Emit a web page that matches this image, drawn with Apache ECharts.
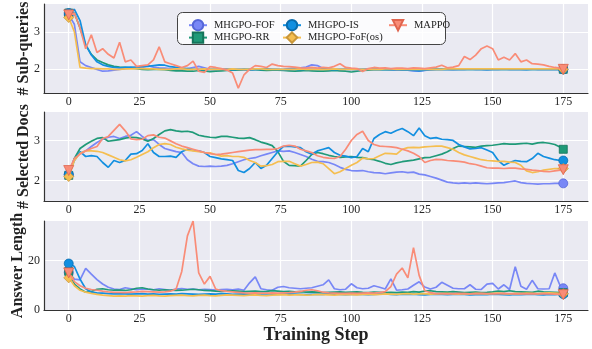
<!DOCTYPE html>
<html>
<head>
<meta charset="utf-8">
<script src="https://cdn.jsdelivr.net/npm/echarts@6/dist/echarts.min.js"></script>
<style>
  html, body { margin: 0; padding: 0; background: #fff; }
  #container { width: 592px; height: 349px; }
</style>
</head>
<body>
<div id="container"></div>
<script>
// training steps: every 2nd step plus the last one
var steps = [];
for (var s = 0; s < 175; s += 2) steps.push(s);
steps.push(175);

var xTicks = [0, 25, 50, 75, 100, 125, 150, 175];

// # Sub-queries
var subFof = [3.45,3.2,2.2,2.1,2.05,2.0,1.95,1.96,1.98,2.0,
  2.02,2.03,2.05,2.05,2.1,2.06,2.04,2.03,2.02,2.0,
  2.0,2.02,2.05,2.08,2.04,2.0,1.99,2.0,2.01,2.0,
  1.99,2.0,1.98,2.0,2.01,2.0,2.0,1.99,2.0,2.02,
  2.03,2.04,2.06,2.12,2.1,2.02,2.0,2.0,1.99,2.0,
  2.0,2.0,2.0,2.01,2.0,2.0,2.0,1.99,1.98,1.99,
  1.98,1.96,1.95,1.97,1.99,2.0,2.0,2.0,1.99,2.0,
  2.0,2.01,2.0,2.0,1.99,2.0,2.0,2.01,2.0,2.0,
  2.0,2.0,2.01,2.0,2.0,2.0,2.0,2.0,2.0];
var subRr = [3.5,3.5,3.1,2.65,2.4,2.25,2.18,2.12,2.08,2.06,
  2.05,2.03,2.02,2.0,1.99,2.0,2.0,1.99,1.97,1.96,
  1.96,1.95,1.95,1.97,1.96,1.94,1.95,1.96,1.97,1.98,
  1.98,1.99,2.0,1.99,1.98,1.97,1.98,1.98,1.97,1.96,
  1.95,1.96,1.97,1.96,1.95,1.95,1.96,1.97,1.96,1.95,
  1.93,1.95,1.97,1.98,1.99,2.0,1.99,1.99,2.0,2.0,
  2.0,1.99,2.0,2.0,2.0,2.0,2.0,2.0,2.0,2.0,
  2.0,2.0,2.0,2.0,2.0,2.0,2.0,2.0,2.0,2.0,
  2.0,2.0,2.0,2.0,2.0,2.0,2.0,2.0,2.0];
var subIs = [3.5,3.6,3.3,2.65,2.38,2.2,2.12,2.08,2.05,2.04,
  2.05,2.06,2.05,2.07,2.08,2.1,2.12,2.11,2.07,2.05,
  2.03,2.02,2.0,2.0,2.0,2.0,2.0,2.0,2.0,1.99,
  2.0,2.0,1.99,2.0,2.0,2.01,2.0,2.0,1.99,2.0,
  2.0,2.0,2.0,2.0,2.0,2.01,2.0,1.99,2.0,2.0,
  2.0,1.99,2.0,2.0,2.0,2.0,2.0,2.0,1.99,1.98,
  1.98,1.97,1.96,1.98,1.99,2.0,2.0,2.0,2.0,2.0,
  2.0,2.0,2.0,2.0,1.99,2.0,2.0,2.0,2.0,2.0,
  2.0,1.99,2.0,2.0,2.0,2.0,2.0,2.0,2.0];
var subFofOs = [3.38,3.0,2.05,2.03,2.02,2.02,2.01,2.01,2.0,2.0,
  2.01,2.01,2.02,2.02,2.01,2.01,2.0,2.0,2.0,2.01,
  2.01,2.0,2.0,2.0,2.01,2.0,2.0,2.0,2.0,2.01,
  2.0,2.0,2.0,2.01,2.01,2.0,2.0,2.0,2.0,2.0,
  2.0,2.01,2.0,2.0,2.0,2.0,2.0,2.01,2.0,2.0,
  2.0,2.0,2.0,2.0,2.0,2.0,2.01,2.01,2.0,2.0,
  2.0,2.0,2.0,2.0,2.0,2.0,2.0,2.01,2.01,2.01,
  2.01,2.01,2.01,2.01,2.01,2.01,2.01,2.01,2.01,2.01,
  2.01,2.01,2.01,2.01,2.01,2.01,2.01,2.01,2.0];
var subMappo = [3.45,3.5,3.1,2.55,2.92,2.45,2.55,2.4,2.3,2.72,
  2.2,2.25,2.08,2.1,2.12,2.25,2.6,2.2,2.15,2.1,
  2.05,2.1,2.22,1.95,1.92,2.07,2.05,2.02,1.98,1.9,
  1.5,1.85,2.0,2.1,2.08,2.05,2.14,2.1,2.08,2.07,
  2.06,2.04,2.03,2.05,2.03,2.05,2.04,2.08,2.15,2.05,
  2.03,2.02,1.94,2.02,2.05,2.03,2.04,2.02,2.03,2.03,
  2.02,2.04,2.03,2.02,2.04,2.06,2.11,2.04,2.06,2.1,
  2.34,2.26,2.38,2.55,2.62,2.55,2.25,2.32,2.25,2.42,
  2.2,2.25,2.15,2.14,2.12,2.08,2.05,2.03,2.0];

// # Selected Docs
var docFof = [2.15,2.55,2.68,2.74,2.85,2.95,3.03,3.08,3.1,3.05,
  3.1,3.13,3.22,3.1,3.0,3.02,2.9,2.8,2.76,2.72,
  2.7,2.52,2.42,2.36,2.35,2.36,2.35,2.36,2.38,2.42,
  2.47,2.52,2.55,2.57,2.62,2.66,2.7,2.74,2.73,2.74,
  2.7,2.65,2.6,2.53,2.48,2.47,2.45,2.4,2.33,2.28,
  2.25,2.24,2.25,2.22,2.2,2.19,2.17,2.19,2.21,2.22,
  2.2,2.21,2.16,2.14,2.1,2.06,2.01,1.96,1.94,1.93,
  1.94,1.93,1.94,1.93,1.92,1.93,1.94,1.95,1.97,1.99,
  1.95,1.93,1.92,1.91,1.92,1.92,1.93,1.93,1.93];
var docRr = [2.13,2.55,2.8,2.9,2.98,3.05,3.07,2.98,3.0,3.02,
  3.06,3.08,3.07,3.04,2.98,3.05,3.15,3.24,3.27,3.24,
  3.22,3.23,3.2,3.13,3.1,3.08,3.07,3.1,3.1,3.08,
  3.06,3.05,3.07,3.02,2.96,2.92,2.87,2.72,2.48,2.38,
  2.37,2.36,2.5,2.65,2.7,2.67,2.63,2.6,2.58,2.59,
  2.6,2.58,2.57,2.54,2.52,2.48,2.43,2.4,2.44,2.47,
  2.49,2.51,2.54,2.57,2.58,2.62,2.66,2.72,2.8,2.86,
  2.85,2.84,2.83,2.86,2.87,2.88,2.9,2.92,2.91,2.91,
  2.92,2.93,2.91,2.94,2.95,2.93,2.9,2.83,2.78];
var docIs = [2.15,2.5,2.72,2.6,2.62,2.6,2.45,2.33,2.5,2.45,
  2.5,2.66,2.67,2.75,2.92,2.7,2.6,2.6,2.61,2.58,
  2.72,2.78,2.75,2.74,2.7,2.6,2.57,2.54,2.52,2.5,
  2.25,2.2,2.3,2.45,2.3,2.38,2.55,2.72,2.85,2.86,
  2.84,2.82,2.72,2.66,2.74,2.78,2.82,2.7,2.63,2.61,
  2.57,2.6,2.8,2.72,3.05,3.15,3.22,3.18,3.25,3.3,
  3.22,3.12,3.31,3.12,3.05,3.07,3.03,3.02,3.0,2.9,
  2.84,2.79,2.8,2.82,2.76,2.7,2.5,2.38,2.45,2.5,
  2.48,2.47,2.55,2.68,2.6,2.56,2.52,2.5,2.5];
var docFofOs = [2.1,2.5,2.68,2.74,2.74,2.73,2.7,2.64,2.58,2.52,
  2.49,2.52,2.58,2.65,2.72,2.82,2.9,2.92,2.9,2.83,
  2.79,2.76,2.74,2.72,2.7,2.69,2.65,2.61,2.62,2.6,
  2.6,2.58,2.5,2.45,2.36,2.37,2.4,2.47,2.48,2.48,
  2.42,2.36,2.4,2.45,2.46,2.42,2.3,2.17,2.22,2.3,
  2.38,2.45,2.56,2.54,2.55,2.62,2.68,2.67,2.66,2.78,
  2.82,2.83,2.82,2.84,2.85,2.86,2.86,2.82,2.78,2.7,
  2.64,2.6,2.56,2.52,2.5,2.49,2.48,2.48,2.46,2.45,
  2.38,2.24,2.2,2.22,2.26,2.28,2.3,2.3,2.3];
var docMappo = [2.25,2.55,2.66,2.74,2.8,2.85,3.05,3.1,3.25,3.4,
  3.24,3.04,3.02,3.03,3.12,3.14,3.08,3.06,2.99,2.92,
  2.86,2.82,2.78,2.74,2.7,2.67,2.65,2.66,2.68,2.7,
  2.72,2.74,2.76,2.77,2.77,2.78,2.78,2.8,2.86,2.88,
  2.86,2.78,2.74,2.7,2.62,2.58,2.56,2.55,2.6,2.78,
  3.0,3.15,3.23,3.0,2.9,2.86,2.85,2.84,2.82,2.78,
  2.74,2.68,2.6,2.45,2.5,2.53,2.52,2.5,2.49,2.48,
  2.46,2.42,2.4,2.36,2.32,2.31,2.31,2.3,2.31,2.31,
  2.29,2.28,2.26,2.25,2.23,2.22,2.24,2.26,2.27];

// Answer Length
var lenFof = [15.2,12.5,12.2,16.8,14.5,12.3,10.5,9.2,8.5,8.3,
  9.0,8.6,8.2,8.5,8.4,8.2,8.6,8.3,8.0,8.5,
  8.7,8.4,8.5,8.2,8.4,8.3,8.1,8.3,8.4,8.2,
  8.5,8.0,11.0,13.4,8.6,8.2,8.0,9.2,9.5,9.0,
  8.8,8.6,8.8,9.0,9.6,10.2,12.2,8.6,8.2,8.4,
  10.6,9.0,8.6,8.8,9.8,9.2,8.5,12.6,8.0,8.2,
  8.5,10.0,11.4,9.3,8.5,9.2,11.2,10.0,8.8,8.6,
  8.6,10.2,8.4,8.3,10.5,10.8,8.5,10.2,8.3,17.5,
  9.6,8.4,12.0,8.6,8.5,8.6,15.0,9.5,8.8];
var lenRr = [15.6,10.5,8.5,7.2,7.5,8.4,8.6,8.2,8.0,8.0,
  7.9,8.2,8.8,9.0,8.5,8.2,8.0,8.2,8.0,7.9,
  8.0,8.2,8.4,8.2,7.9,7.8,7.6,7.5,7.6,7.7,
  7.6,7.4,7.5,7.6,7.4,7.5,7.8,7.6,7.4,7.5,
  7.3,7.4,7.2,7.3,7.2,7.0,7.1,7.2,7.3,7.1,
  7.2,7.3,7.1,7.0,7.2,7.1,7.0,7.1,7.0,7.2,
  7.1,7.4,7.2,7.6,7.8,7.4,7.3,7.2,7.4,7.2,
  7.0,7.1,7.2,7.0,7.1,7.3,7.6,7.4,7.8,7.4,
  7.3,7.2,7.1,7.6,7.3,7.2,7.1,7.0,7.0];
var lenIs = [18.8,17.6,12.5,8.6,7.2,6.9,6.8,6.6,6.5,6.6,
  6.5,6.4,6.5,6.6,6.4,6.5,6.3,6.4,6.5,6.4,
  6.6,6.5,6.4,6.3,6.4,6.5,6.4,6.6,6.5,6.3,
  6.4,6.5,6.3,6.4,6.5,6.6,6.4,6.3,6.4,6.5,
  6.4,6.3,6.2,6.3,6.4,6.3,6.5,6.4,6.3,6.2,
  6.3,6.4,6.3,6.2,6.3,6.4,6.5,6.3,6.2,6.4,
  6.3,6.4,6.2,6.1,6.3,6.4,6.3,6.2,6.3,6.4,
  6.3,6.1,6.2,6.3,6.2,6.4,6.3,6.2,6.1,6.3,
  6.2,6.3,6.4,6.2,6.1,6.3,6.2,6.4,6.4];
var lenFofOs = [13.0,9.8,8.0,7.2,6.7,6.3,6.0,5.8,5.6,5.7,
  5.6,5.8,5.7,5.6,5.8,5.9,5.7,5.6,5.8,5.9,
  6.0,5.8,5.7,5.9,6.0,5.8,5.7,5.9,6.1,6.0,
  5.9,5.8,6.0,6.1,5.9,5.8,6.0,6.1,6.2,6.0,
  6.1,6.2,6.0,6.1,6.3,6.2,6.1,6.0,6.2,6.3,
  6.2,6.1,6.3,6.4,6.2,6.3,6.5,6.4,6.3,6.5,
  6.6,6.4,6.5,6.6,6.4,6.5,6.6,6.7,6.5,6.4,
  6.6,6.5,6.7,6.6,6.5,6.7,6.8,6.6,6.5,6.7,
  6.6,6.8,6.7,6.6,6.8,6.9,6.8,6.7,6.6];
var lenMappo = [15.0,11.5,9.8,8.8,8.3,8.0,7.6,7.3,7.1,7.1,
  7.0,7.2,7.3,7.5,7.4,7.3,7.2,7.3,7.6,8.5,
  15.6,30.0,36.0,15.0,10.5,13.6,8.5,7.8,7.5,7.3,
  7.1,6.9,6.8,6.9,6.8,6.8,6.9,6.8,6.9,7.0,
  7.2,7.5,8.0,8.2,7.8,7.2,6.9,6.8,6.7,6.7,
  6.8,6.7,6.8,6.9,6.8,7.0,7.4,9.5,14.5,17.0,
  13.0,25.2,14.0,7.8,7.0,6.6,6.6,6.5,6.6,6.7,
  6.6,6.5,6.6,6.7,6.6,6.5,6.6,6.7,6.6,6.5,
  6.6,6.5,6.6,6.5,6.6,6.5,6.4,6.3,6.2];

var names = ['MHGPO-FOF', 'MHGPO-RR', 'MHGPO-IS', 'MHGPO-FoF(os)', 'MAPPO'];
var colors = ['#7887f6', '#1f9a78', '#128fe0', '#f5be50', '#f98c77'];
var edges = ['#5566d8', '#14745a', '#0a6cad', '#c8963a', '#e0644e'];
var shapes = ['circle', 'rect', 'circle', 'diamond', 'triangle'];
var sizes = [9, 8, 9, 10, 10];
var rotates = [0, 0, 0, 0, 180];

var panels = [
  [subFof, subRr, subIs, subFofOs, subMappo],
  [docFof, docRr, docIs, docFofOs, docMappo],
  [lenFof, lenRr, lenIs, lenFofOs, lenMappo]
];

var FONT = 'Liberation Serif';

// markers only on the first and last point
function points(vals) {
  return vals.map(function (v, i) {
    var item = { value: [steps[i], v] };
    if (i > 0 && i < vals.length - 1) item.symbol = 'none';
    return item;
  });
}

var tops = [4, 112, 221];
var yRanges = [[1.37, 3.74], [1.49, 3.71], [0, 36]];
var yTicks = [[2, 3], [2, 3], [0, 20]];
var yNames = ['# Sub-queries', '# Selected Docs', 'Answer Length'];
var yNameGaps = [12, 12, 18];

var grids = [], xAxes = [], yAxes = [], series = [];
for (var p = 0; p < 3; p++) {
  grids.push({
    left: 44, right: 4, top: tops[p], height: 89,
    outerBoundsMode: 'none', containLabel: false,
    show: true, backgroundColor: '#eaeaf2', borderWidth: 0
  });
  xAxes.push({
    type: 'value', gridIndex: p, min: -8.75, max: 183.75,
    name: p == 2 ? 'Training Step' : '',
    nameLocation: 'middle', nameGap: 16, nameMoveOverlap: false,
    nameTextStyle: { fontFamily: FONT, fontWeight: 'bold', fontSize: 18, color: '#222', verticalAlign: 'top' },
    axisLine: { show: true, onZero: false, lineStyle: { color: '#333', width: 1.2 } },
    axisTick: { show: false, customValues: xTicks },
    axisLabel: { customValues: xTicks, margin: 3, fontFamily: FONT, fontSize: 12, color: '#262626' },
    splitLine: { show: true, lineStyle: { color: '#fff', width: 1.2 } }
  });
  yAxes.push({
    type: 'value', gridIndex: p, min: yRanges[p][0], max: yRanges[p][1],
    name: yNames[p], nameLocation: 'middle', nameGap: yNameGaps[p], nameRotate: 90,
    nameMoveOverlap: false,
    nameTextStyle: { fontFamily: FONT, fontWeight: 'bold', fontSize: 16, color: '#222' },
    axisLine: { show: true, onZero: false, lineStyle: { color: '#333', width: 1.2 } },
    axisTick: { show: false, customValues: yTicks[p] },
    axisLabel: { customValues: yTicks[p], margin: 4, fontFamily: FONT, fontSize: 12, color: '#262626' },
    splitLine: { show: true, lineStyle: { color: '#fff', width: 1.2 } }
  });
  for (var k = 0; k < 5; k++) {
    series.push({
      name: names[k], type: 'line',
      xAxisIndex: p, yAxisIndex: p,
      data: points(panels[p][k]),
      symbol: shapes[k], symbolSize: sizes[k], symbolRotate: rotates[k],
      showSymbol: true,
      lineStyle: { color: colors[k], width: 1.7 },
      itemStyle: { color: colors[k], borderColor: edges[k], borderWidth: 0.8 },
      z: 2 + k,
      emphasis: { disabled: true }
    });
  }
}

function legendCol(left, items) {
  return {
    orient: 'vertical', left: left, top: 14, itemGap: 0,
    itemWidth: 18, itemHeight: 13,
    data: items,
    textStyle: { fontFamily: FONT, fontSize: 10.5, color: '#222', padding: [0, 0, 0, 2] },
    selectedMode: false, z: 5
  };
}

var myChart = echarts.init(document.getElementById('container'), null, { renderer: 'canvas' });
var option = {
  animation: false,
  backgroundColor: '#fff',
  grid: grids,
  xAxis: xAxes,
  yAxis: yAxes,
  legend: [
    legendCol(183, ['MHGPO-FOF', 'MHGPO-RR']),
    legendCol(277, ['MHGPO-IS', 'MHGPO-FoF(os)']),
    legendCol(383, ['MAPPO'])
  ],
  graphic: [{
    type: 'rect', z: 4,
    shape: { x: 177.5, y: 12.5, width: 268, height: 32, r: 5 },
    style: { fill: 'rgba(255,255,255,0.8)', stroke: '#444', lineWidth: 1 }
  }],
  series: series
};
myChart.setOption(option);
</script>
</body>
</html>
